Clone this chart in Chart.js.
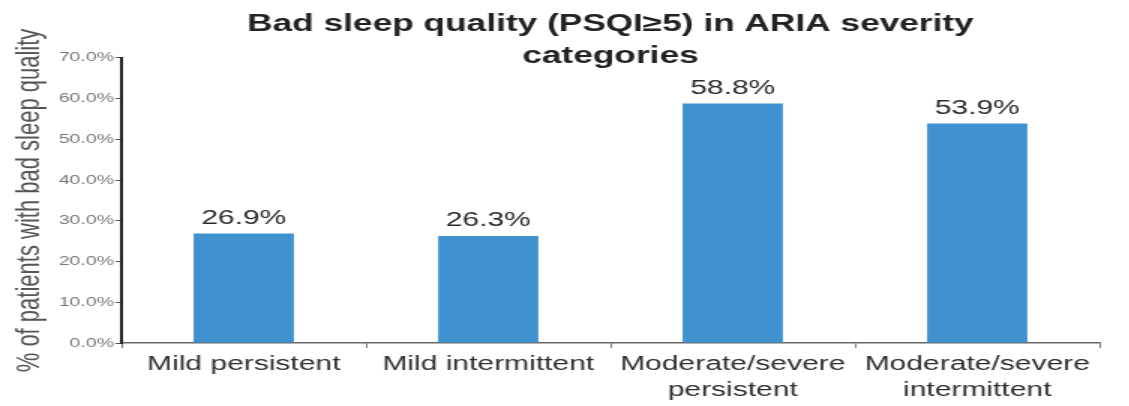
<!DOCTYPE html>
<html>
<head>
<meta charset="utf-8">
<script src="https://cdn.jsdelivr.net/npm/chart.js@4"></script>
<style>
  html, body { margin: 0; padding: 0; background: #fff; overflow: hidden; }
  /* the source picture is stretched sideways, so draw narrow and widen it */
  #wrap {
    width: 753px;
    height: 406px;
    position: relative;
    transform: scaleX(1.5);
    transform-origin: 0 0;
  }
</style>
</head>
<body>
<div id="wrap"><canvas id="sleepChart"></canvas></div>
<script>
const categories = [
    "Mild persistent",
    "Mild intermittent",
    ["Moderate/severe", "persistent"],
    ["Moderate/severe", "intermittent"],
];
const badSleepPct = [26.9, 26.3, 58.8, 53.9];
const yTicks = [0, 10, 20, 30, 40, 50, 60, 70];

const FONT = "'Liberation Sans', Arial, Helvetica, sans-serif";

// labels above each bar
const valueLabels = {
    id: "valueLabels",
    afterDatasetsDraw(chart) {
        const ctx = chart.ctx;
        const meta = chart.getDatasetMeta(0);
        ctx.save();
        ctx.font = "20px " + FONT;
        ctx.fillStyle = "#2b2b2b";
        ctx.textAlign = "center";
        ctx.textBaseline = "bottom";
        meta.data.forEach((bar, i) => {
            ctx.fillText(badSleepPct[i].toFixed(1) + "%", bar.x, bar.y - 5);
        });
        ctx.restore();
    },
};

const ctx = document.getElementById("sleepChart").getContext("2d");
new Chart(ctx, {
    type: "bar",
    data: {
        labels: categories,
        datasets: [
            {
                data: badSleepPct,
                backgroundColor: "#3f91cf",
                categoryPercentage: 0.41,
                barPercentage: 1,
            },
        ],
    },
    options: {
        responsive: true,
        maintainAspectRatio: false,
        animation: false,
        layout: { padding: { left: 0, right: 20, top: 0, bottom: 0 } },
        plugins: {
            legend: { display: false },
            tooltip: { enabled: false },
            title: {
                display: true,
                fullSize: false,
                text: ["Bad sleep quality (PSQI≥5) in ARIA severity", "categories"],
                color: "#222",
                font: { family: FONT, size: 23.5, weight: "bold", lineHeight: 1.36 },
                padding: { top: 9, bottom: -15 },
            },
        },
        scales: {
            x: {
                grid: {
                    display: true,
                    drawOnChartArea: false,
                    offset: true,
                    tickLength: 5,
                    color: "#777",
                },
                border: { color: "#666", width: 1.5 },
                ticks: {
                    color: "#2f2f2f",
                    font: { family: FONT, size: 20, lineHeight: 1.3 },
                    padding: 3,
                    maxRotation: 0,
                    autoSkip: false,
                },
            },
            y: {
                min: 0,
                max: 70,
                afterBuildTicks(scale) {
                    scale.ticks = yTicks.map((v) => ({ value: v }));
                },
                afterFit(scale) {
                    scale.width = 81;
                },
                grid: {
                    display: true,
                    drawOnChartArea: false,
                    tickLength: 4,
                    color: "#555",
                },
                border: { color: "#222", width: 2 },
                ticks: {
                    color: "#777",
                    font: { family: FONT, size: 13 },
                    padding: 1,
                    callback: (v) => v.toFixed(1) + "%",
                },
                title: {
                    display: true,
                    text: "% of patients with bad sleep quality",
                    color: "#555",
                    font: { family: FONT, size: 22 },
                    padding: { top: 7, bottom: 0 },
                },
            },
        },
    },
    plugins: [valueLabels],
});
</script>
</body>
</html>
